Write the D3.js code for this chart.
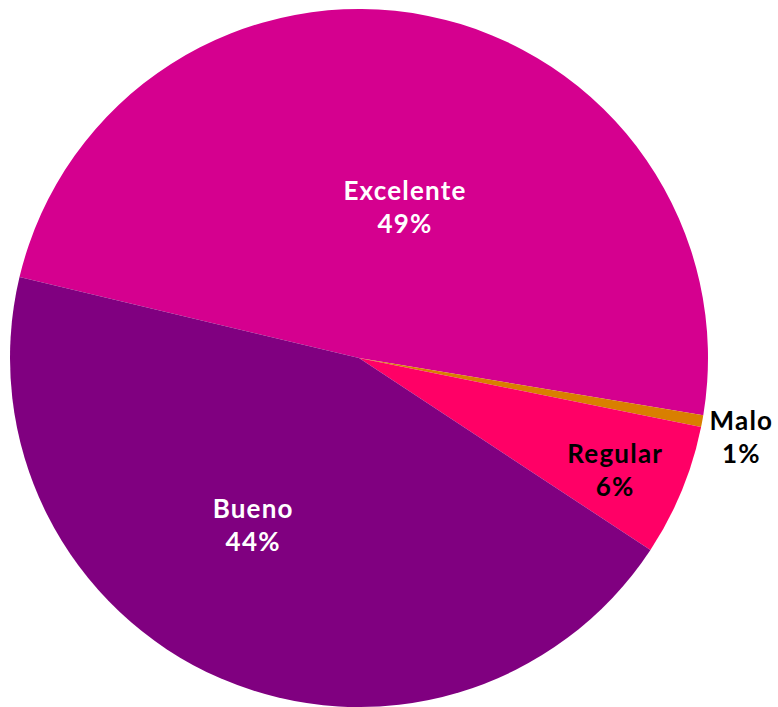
<!DOCTYPE html>
<html><head><meta charset="utf-8">
<script src="https://cdn.jsdelivr.net/npm/d3@7"></script>
<style>body{margin:0;background:#fff}svg{display:block}</style>
</head><body>
<svg id="c" width="778" height="707"></svg>
<script>
const categories = ["Excelente", "Malo", "Regular", "Bueno"];
const values = [48.9, 0.55, 6.1, 44.45];
const percentLabels = ["49%", "1%", "6%", "44%"];
const colors = ["#D5008F", "#D97F00", "#FF0066", "#800080"];

const W = 778, H = 707, cx = 359, cy = 358, R = 349;
const startDeg = 283.4;
// label placement: [radius, angle offset in degrees]
const labelPlace = [[160, 5.3], [390, 0.9], [279, 0.9], [196, 9.3]];
const labelColor = ["#fff", "#000", "#000", "#fff"];

const svg = d3.select("#c");
const g = svg.append("g").attr("transform", `translate(${cx},${cy})`);
const a0 = startDeg * Math.PI / 180;
const pie = d3.pie().sort(null).startAngle(a0).endAngle(a0 + 2 * Math.PI);
const data = pie(values);
const arc = d3.arc().innerRadius(0).outerRadius(R);

g.selectAll("path").data(data).join("path")
  .attr("d", arc).attr("fill", (d, i) => colors[i]);

data.forEach((d, i) => {
  const mid = (d.startAngle + d.endAngle) / 2 + labelPlace[i][1] * Math.PI / 180;
  const [x, y] = d3.pointRadial(mid, labelPlace[i][0]);
  const t = g.append("text").attr("x", x).attr("y", y)
    .attr("text-anchor", "middle")
    .attr("font-family", "Lato, 'DejaVu Sans', sans-serif")
    .attr("font-weight", "bold").attr("font-size", 26)
    .attr("letter-spacing", 1.2)
    .attr("fill", labelColor[i]);
  t.append("tspan").attr("x", x).attr("dy", -5).text(categories[i]);
  t.append("tspan").attr("x", x).attr("dy", 33).text(percentLabels[i]);
});
</script>
</body></html>
